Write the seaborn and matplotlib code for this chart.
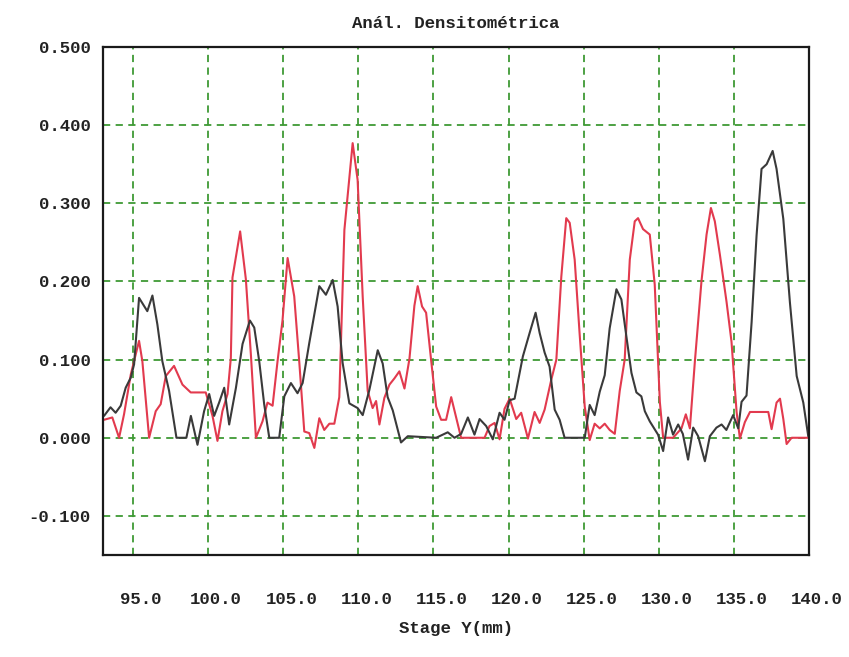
import numpy as np
import pandas as pd
import matplotlib
matplotlib.use("Agg")
import matplotlib.pyplot as plt
from matplotlib.transforms import ScaledTranslation
import seaborn as sns

# ---- data ----
black_x = [93.07, 93.5, 93.84, 94.18, 94.51, 94.85, 95.07, 95.4, 95.95, 96.29, 96.62, 96.95,
           97.4, 97.89, 98.55, 98.85, 99.29, 99.73, 100.07, 100.4, 100.73, 101.07, 101.4,
           101.85, 102.29, 102.78, 103.07, 103.4, 103.73, 104.07, 104.73, 105.07, 105.51,
           105.95, 106.29, 106.73, 107.4, 107.84, 108.29, 108.62, 108.95, 109.4, 109.95,
           110.29, 110.73, 111.29, 111.62, 111.95, 112.29, 112.84, 113.29, 115.18, 115.95,
           116.4, 116.84, 117.29, 117.73, 118.07, 118.51, 118.95, 119.4, 119.73, 120.07,
           120.4, 120.95, 121.4, 121.8, 122.07, 122.4, 122.73, 123.07, 123.4, 123.73, 125.07,
           125.4, 125.73, 126.07, 126.4, 126.73, 127.18, 127.51, 127.84, 128.18, 128.51,
           128.84, 129.07, 129.4, 129.95, 130.29, 130.62, 130.95, 131.29, 131.6, 131.95,
           132.29, 132.62, 133.07, 133.4, 133.84, 134.18, 134.5, 134.95, 135.29, 135.51,
           135.84, 136.18, 136.51, 136.84, 137.18, 137.58, 137.84, 138.29, 138.73, 139.18,
           139.62, 139.95]
black_y = [0.028, 0.039, 0.032, 0.041, 0.064, 0.077, 0.094, 0.179, 0.162, 0.182, 0.145, 0.098,
           0.060, 0.0, 0.0, 0.028, -0.009, 0.034, 0.056, 0.028, 0.045, 0.064, 0.017,
           0.064, 0.120, 0.150, 0.141, 0.098, 0.043, 0.0, 0.0, 0.053, 0.070,
           0.057, 0.070, 0.121, 0.194, 0.183, 0.202, 0.168, 0.096, 0.044, 0.038,
           0.029, 0.061, 0.112, 0.095, 0.052, 0.035, -0.006, 0.002, 0.0, 0.007,
           0.0, 0.005, 0.026, 0.004, 0.024, 0.015, -0.002, 0.032, 0.023, 0.048,
           0.050, 0.104, 0.134, 0.160, 0.134, 0.109, 0.091, 0.036, 0.023, 0.0, 0.0,
           0.042, 0.029, 0.059, 0.080, 0.140, 0.190, 0.177, 0.130, 0.083, 0.058,
           0.053, 0.034, 0.021, 0.004, -0.017, 0.026, 0.004, 0.017, 0.005, -0.028,
           0.013, 0.002, -0.030, 0.002, 0.013, 0.017, 0.010, 0.029, 0.012, 0.046,
           0.054, 0.148, 0.259, 0.344, 0.350, 0.367, 0.344, 0.280, 0.173, 0.079,
           0.045, 0.002]

red_x = [93.07, 93.62, 94.07, 94.4, 94.85, 95.4, 95.62, 96.07, 96.51, 96.84, 97.18, 97.73,
         98.29, 98.84, 99.84, 100.29, 100.62, 100.95, 101.29, 101.51, 101.62, 102.13, 102.51,
         102.85, 103.18, 103.62, 103.95, 104.29, 104.62, 104.95, 105.29, 105.73, 106.07,
         106.4, 106.73, 107.07, 107.4, 107.73, 108.07, 108.4, 108.73, 109.07, 109.62,
         109.95, 110.29, 110.62, 110.95, 111.18, 111.4, 111.73, 112.07, 112.4, 112.73,
         113.07, 113.4, 113.73, 113.95, 114.24, 114.51, 114.84, 115.18, 115.51, 115.84,
         116.18, 116.51, 116.84, 118.4, 118.73, 119.07, 119.4, 119.73, 120.07, 120.51,
         120.84, 121.29, 121.73, 122.07, 122.4, 122.84, 123.18, 123.51, 123.84, 124.07,
         124.4, 124.73, 125.07, 125.4, 125.73, 126.07, 126.4, 126.73, 127.07, 127.4,
         127.73, 128.07, 128.4, 128.62, 128.95, 129.4, 129.73, 130.07, 130.29, 130.95,
         131.51, 131.8, 132.07, 132.4, 132.84, 133.18, 133.47, 133.73, 134.07, 134.51,
         134.84, 135.18, 135.4, 135.73, 136.07, 137.29, 137.51, 137.84, 138.07, 138.29,
         138.51, 138.84, 139.95]
red_y = [0.023, 0.026, 0.0, 0.030, 0.081, 0.124, 0.098, 0.0, 0.034, 0.043, 0.079, 0.092,
         0.068, 0.058, 0.058, 0.028, -0.004, 0.034, 0.056, 0.102, 0.205, 0.264, 0.203,
         0.105, 0.0, 0.021, 0.045, 0.041, 0.098, 0.150, 0.230, 0.181, 0.096,
         0.008, 0.006, -0.013, 0.025, 0.010, 0.018, 0.018, 0.052, 0.266, 0.377,
         0.330, 0.180, 0.060, 0.038, 0.047, 0.017, 0.051, 0.068, 0.076, 0.085,
         0.063, 0.101, 0.169, 0.194, 0.168, 0.160, 0.100, 0.040, 0.023, 0.023,
         0.052, 0.026, 0.0, 0.0, 0.015, 0.019, -0.002, 0.037, 0.050, 0.024,
         0.032, -0.001, 0.033, 0.019, 0.036, 0.074, 0.100, 0.206, 0.281, 0.275,
         0.228, 0.133, 0.040, -0.003, 0.018, 0.012, 0.018, 0.010, 0.005, 0.060,
         0.100, 0.228, 0.277, 0.281, 0.267, 0.260, 0.196, 0.046, 0.0, 0.0,
         0.012, 0.030, 0.012, 0.097, 0.200, 0.260, 0.294, 0.277, 0.234, 0.174,
         0.123, 0.033, -0.001, 0.020, 0.033, 0.033, 0.011, 0.045, 0.050, 0.024,
         -0.008, 0.0, 0.0]

x_ticks = [95.0, 100.0, 105.0, 110.0, 115.0, 120.0, 125.0, 130.0, 135.0, 140.0]
y_ticks = [-0.1, 0.0, 0.1, 0.2, 0.3, 0.4, 0.5]

title = "Anál. Densitométrica"
xlabel = "Stage Y(mm)"

# ---- build long-form table ----
df = pd.concat([
    pd.DataFrame({"x": black_x, "y": black_y, "series": "black", "order": range(len(black_x))}),
    pd.DataFrame({"x": red_x, "y": red_y, "series": "red", "order": range(len(red_x))}),
], ignore_index=True)

sns.set_style("white")
plt.rcParams["font.family"] = ["Liberation Mono", "DejaVu Sans Mono"]
plt.rcParams["font.weight"] = "bold"

fig = plt.figure(figsize=(8.49, 6.57), dpi=100)
ax = fig.add_axes([103 / 849, 1 - 555 / 657, 706 / 849, 508 / 657])

sns.lineplot(data=df, x="x", y="y", hue="series",
             palette={"black": "#3a3a3a", "red": "#e23a4e"},
             hue_order=["red", "black"],
             sort=False, estimator=None, linewidth=1.5, legend=False, ax=ax)

ax.set_xlim(93.0, 140.0)
ax.set_ylim(-0.15, 0.5)

ax.set_xticks(x_ticks)
ax.set_xticklabels([f"{v:.1f}" for v in x_ticks])
ax.set_yticks(y_ticks)
ax.set_yticklabels([f"{v:.3f}" for v in y_ticks])

ax.grid(True, color="#3f9a35", linestyle=(0, (4, 3)), linewidth=1.3)
ax.set_axisbelow(True)

ax.tick_params(axis="both", length=0, labelsize=12.5, colors="#222222")
ax.tick_params(axis="x", pad=27)
ax.tick_params(axis="y", pad=9)
for lab in ax.get_xticklabels():
    lab.set_fontweight("bold")
    lab.set_transform(lab.get_transform() + ScaledTranslation(0.08, 0, fig.dpi_scale_trans))
for lab in ax.get_yticklabels():
    lab.set_fontweight("bold")

for sp in ax.spines.values():
    sp.set_color("#1a1a1a")
    sp.set_linewidth(1.6)

ax.set_title(title, fontsize=12.5, fontweight="bold", color="#222222", pad=14)
ax.set_xlabel(xlabel, fontsize=12.5, fontweight="bold", color="#222222", labelpad=10)
ax.set_ylabel("")

fig.savefig("out.png", dpi=100, facecolor="white")
